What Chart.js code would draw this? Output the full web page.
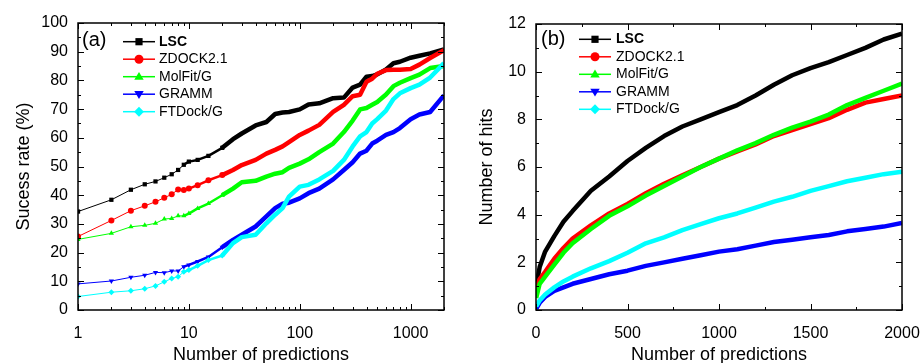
<!DOCTYPE html>
<html>
<head>
<meta charset="utf-8">
<script src="https://cdn.jsdelivr.net/npm/chart.js@4.4.0/dist/chart.umd.min.js"></script>
<style>
  html, body { margin: 0; padding: 0; background: #fff; }
  #wrap { width: 921px; height: 363px; position: relative; }
  canvas { position: absolute; top: 0; }
  #chartA { left: 0; }
  #chartB { left: 460px; }
</style>
</head>
<body>
<div id="wrap">
  <canvas id="chartA" width="460" height="363"></canvas>
  <canvas id="chartB" width="461" height="363"></canvas>
</div>
<script>
// series shared by both panels
var names = ['LSC', 'ZDOCK2.1', 'MolFit/G', 'GRAMM', 'FTDock/G'];
var colors = ['#000000', '#ff0000', '#00ff00', '#0000ff', '#00ffff'];
var markers = ['rect', 'circle', 'triangle', 'triangleDown', 'rectRot'];

// (a) success rate (%) against number of predictions (log x)
var ranksA = [1, 2, 3, 4, 5, 6, 7, 8, 9, 10, 12, 15, 20, 25, 30, 40, 50, 60, 70, 80,
    100, 120, 150, 200, 250, 300, 350, 400, 450, 500, 600, 700, 800, 1000, 1200, 1500, 2000];
var lscA = [34.3, 38.4, 41.9, 43.8, 44.8, 46.1, 47.3, 48.8, 50.6, 51.7, 52.3, 53.7, 56.5, 59.5, 61.5, 64.3, 65.5, 68.3, 68.8, 69.0,
    69.9, 71.6, 72.0, 73.8, 74.0, 77.5, 78.5, 81.3, 81.5, 82.1, 83.8, 86.0, 86.5, 87.9, 88.6, 89.4, 90.8];
var zdockA = [25.6, 31.2, 34.6, 36.3, 37.7, 39.1, 40.3, 42.0, 41.8, 42.3, 43.5, 45.2, 47.0, 48.8, 50.5, 52.3, 54.5, 55.8, 57.0, 58.5,
    61.0, 62.5, 64.5, 69.0, 71.5, 74.5, 75.0, 79.5, 80.6, 82.3, 83.6, 83.7, 83.7, 84.0, 85.5, 87.8, 90.5];
var molfitA = [24.6, 26.7, 29.0, 29.5, 30.2, 31.7, 31.9, 32.8, 32.8, 33.6, 35.4, 37.1, 40.0, 42.3, 44.5, 45.0, 46.5, 47.5, 48.0, 49.5,
    51.0, 52.5, 55.0, 58.0, 62.0, 66.0, 69.9, 70.4, 71.5, 72.5, 75.1, 78.0, 79.2, 80.8, 82.0, 84.3, 85.0];
var grammA = [9.1, 10.1, 11.4, 12.1, 13.1, 13.0, 13.6, 13.6, 15.1, 15.7, 16.9, 18.5, 21.9, 24.4, 26.2, 29.1, 32.6, 35.5, 37.0, 37.4,
    38.9, 40.7, 42.3, 45.5, 48.8, 51.5, 54.5, 55.5, 58.0, 59.0, 61.0, 62.0, 63.4, 66.5, 68.1, 69.0, 74.8];
var ftdockA = [4.7, 6.2, 6.7, 7.4, 8.4, 9.8, 11.0, 11.6, 13.3, 13.9, 15.4, 17.4, 19.0, 23.3, 25.4, 26.2, 30.2, 33.2, 35.5, 39.5,
    43.0, 43.6, 45.5, 48.5, 52.3, 57.0, 60.5, 62.0, 65.0, 66.5, 69.5, 73.5, 75.5, 77.3, 78.5, 81.0, 86.0];

// (b) number of hits against number of predictions
var ranksB = [1, 20, 50, 100, 150, 200, 300, 400, 500, 600, 700, 800, 900, 1000,
    1100, 1200, 1300, 1400, 1500, 1600, 1700, 1800, 1900, 2000];
var lscB = [1.0, 1.8, 2.45, 3.1, 3.7, 4.15, 5.0, 5.6, 6.25, 6.8, 7.3, 7.7, 8.0, 8.3,
    8.6, 9.0, 9.45, 9.85, 10.15, 10.4, 10.7, 11.0, 11.35, 11.6];
var zdockB = [0.9, 1.3, 1.6, 2.15, 2.6, 3.0, 3.55, 4.05, 4.45, 4.9, 5.3, 5.65, 6.0, 6.35,
    6.65, 6.95, 7.3, 7.55, 7.8, 8.05, 8.4, 8.7, 8.85, 9.0];
var molfitB = [0.5, 1.1, 1.4, 1.9, 2.4, 2.8, 3.4, 3.95, 4.35, 4.8, 5.2, 5.6, 6.0, 6.35,
    6.7, 7.0, 7.35, 7.65, 7.9, 8.2, 8.6, 8.9, 9.2, 9.5];
var grammB = [0.05, 0.3, 0.55, 0.8, 0.95, 1.1, 1.3, 1.5, 1.65, 1.85, 2.0, 2.15, 2.3, 2.45,
    2.55, 2.7, 2.85, 2.95, 3.05, 3.15, 3.3, 3.4, 3.5, 3.65];
var ftdockB = [0.15, 0.4, 0.65, 0.95, 1.2, 1.4, 1.75, 2.05, 2.4, 2.8, 3.05, 3.35, 3.6, 3.85,
    4.05, 4.3, 4.55, 4.75, 5.0, 5.2, 5.4, 5.55, 5.7, 5.8];

// tick labels
var xTicksA = [1, 10, 100, 1000];
var yTicksA = [0, 10, 20, 30, 40, 50, 60, 70, 80, 90, 100];
var xTicksB = [0, 500, 1000, 1500, 2000];
var yTicksB = [0, 2, 4, 6, 8, 10, 12];

var FONT = "'Liberation Sans', Arial, sans-serif";

function pairs(xs, ys) {
    return xs.map(function(x, i) { return { x: x, y: ys[i] }; });
}

function drawMarker(ctx, style, x, y, r) {
    ctx.beginPath();
    if (style === 'rect') {
        ctx.rect(x - r * 0.8, y - r * 0.8, r * 1.6, r * 1.6);
    } else if (style === 'circle') {
        ctx.arc(x, y, r, 0, Math.PI * 2);
    } else if (style === 'triangle') {
        ctx.moveTo(x, y - r * 1.05);
        ctx.lineTo(x + r * 1.05, y + r * 0.7);
        ctx.lineTo(x - r * 1.05, y + r * 0.7);
    } else if (style === 'triangleDown') {
        ctx.moveTo(x, y + r * 1.05);
        ctx.lineTo(x + r * 1.05, y - r * 0.7);
        ctx.lineTo(x - r * 1.05, y - r * 0.7);
    } else {
        ctx.moveTo(x, y - r * 1.1);
        ctx.lineTo(x + r * 1.1, y);
        ctx.lineTo(x, y + r * 1.1);
        ctx.lineTo(x - r * 1.1, y);
    }
    ctx.closePath();
    ctx.fill();
}

function minorValues(scale, majors) {
    var out = [];
    if (scale.type === 'logarithmic') {
        majors.forEach(function(m) {
            for (var k = 2; k <= 9; k++) {
                if (m * k <= scale.max) out.push(m * k);
            }
        });
    } else {
        for (var i = 0; i < majors.length - 1; i++) out.push((majors[i] + majors[i + 1]) / 2);
    }
    return out;
}

// box, inward ticks on all four sides, panel letter and legend
var framePlugin = {
    id: 'frame',
    afterDraw: function(chart, args, opts) {
        var ctx = chart.ctx, a = chart.chartArea;
        var xs = chart.scales.x, ys = chart.scales.y;
        ctx.save();
        ctx.strokeStyle = '#000';
        ctx.lineWidth = 1;
        ctx.beginPath();
        function xt(vals, len) {
            vals.forEach(function(v) {
                var p = Math.round(xs.getPixelForValue(v)) + 0.5;
                ctx.moveTo(p, a.bottom); ctx.lineTo(p, a.bottom - len);
                ctx.moveTo(p, a.top); ctx.lineTo(p, a.top + len);
            });
        }
        function yt(vals, len) {
            vals.forEach(function(v) {
                var p = Math.round(ys.getPixelForValue(v)) + 0.5;
                ctx.moveTo(a.left, p); ctx.lineTo(a.left + len, p);
                ctx.moveTo(a.right, p); ctx.lineTo(a.right - len, p);
            });
        }
        xt(opts.xMajor, 6);
        xt(minorValues(xs, opts.xMajor), 3);
        yt(opts.yMajor, 6);
        yt(minorValues(ys, opts.yMajor), 3);
        ctx.stroke();

        ctx.lineWidth = 1.5;
        ctx.strokeRect(a.left, a.top, a.right - a.left, a.bottom - a.top);

        ctx.fillStyle = '#000';
        ctx.textBaseline = 'middle';
        ctx.textAlign = 'left';
        ctx.font = '20px ' + FONT;
        ctx.fillText(opts.label, opts.labelX, opts.labelY);

        var L = opts.legend;
        chart.data.datasets.forEach(function(ds, i) {
            var y = L.y + i * L.step;
            ctx.strokeStyle = ds.borderColor;
            ctx.lineWidth = 1.5;
            ctx.beginPath();
            ctx.moveTo(L.x0, y); ctx.lineTo(L.x1, y);
            ctx.stroke();
            ctx.fillStyle = ds.borderColor;
            drawMarker(ctx, markers[i], (L.x0 + L.x1) / 2, y, 4.5);
            ctx.fillStyle = '#000';
            ctx.font = (i === 0 ? 'bold ' : '') + '14px ' + FONT;
            ctx.fillText(ds.label, L.tx, y);
        });
        ctx.restore();
    }
};

function makeDatasets(xs, series, thin) {
    return series.map(function(ys, i) {
        return {
            label: names[i],
            data: pairs(xs, ys),
            borderColor: colors[i],
            backgroundColor: colors[i],
            pointBackgroundColor: colors[i],
            pointBorderWidth: 0,
            pointStyle: markers[i] === 'triangleDown' ? 'triangle' : markers[i],
            pointRotation: markers[i] === 'triangleDown' ? 180 : 0,
            pointRadius: thin ? function(c) { return c.raw && c.raw.x <= 20 ? 3 : 0; } : 0,
            borderWidth: thin ? 1 : 4.5,
            borderJoinStyle: 'round',
            tension: 0,
            order: 5 - i,
            segment: thin ? {
                borderWidth: function(c) {
                    var x = c.p0.parsed.x;
                    return x < 9 ? 1 : (x < 20 ? 2.5 : 4.5);
                }
            } : undefined
        };
    });
}

function axisOpts(kind, ticks, extra) {
    var o = {
        type: kind,
        grid: { display: false, drawTicks: false },
        border: { display: false },
        ticks: {
            color: '#000',
            font: { family: FONT, size: 16 },
            autoSkip: false,
            maxRotation: 0,
            padding: extra.padding,
            callback: function(v) { return String(v); }
        },
        afterBuildTicks: function(s) {
            s.ticks = ticks.map(function(v) { return { value: v }; });
        },
        title: {
            display: true,
            text: extra.title,
            color: '#000',
            font: { family: FONT, size: 18 },
            padding: extra.titlePad
        },
        min: extra.min,
        max: extra.max,
        afterFit: function(s) {
            // layout padding alone decides the plot box
            if (s.isHorizontal()) s.height = extra.size; else s.width = extra.size;
            s.paddingLeft = 0; s.paddingRight = 0;
            s.paddingTop = 0; s.paddingBottom = 0;
        }
    };
    return o;
}

Chart.defaults.font.family = FONT;

new Chart(document.getElementById('chartA'), {
    type: 'line',
    data: { datasets: makeDatasets(ranksA, [lscA, zdockA, molfitA, grammA, ftdockA], true) },
    options: {
        responsive: false,
        animation: false,
        devicePixelRatio: 1,
        layout: { padding: { top: 23, right: 16, left: 0, bottom: 0 } },
        plugins: {
            legend: { display: false },
            tooltip: { enabled: false },
            frame: {
                xMajor: xTicksA, yMajor: yTicksA,
                label: '(a)', labelX: 82, labelY: 40,
                legend: { x0: 123, x1: 155, tx: 159, y: 41.7, step: 17.5 }
            }
        },
        scales: {
            x: axisOpts('logarithmic', xTicksA, { min: 1, max: 2000, title: 'Number of predictions', padding: 14, titlePad: { top: 0, bottom: -3 }, size: 53 }),
            y: axisOpts('linear', yTicksA, { min: 0, max: 100, title: 'Sucess rate (%)', padding: 10, titlePad: { top: 13, bottom: 0 }, size: 78 })
        }
    },
    plugins: [framePlugin]
});

new Chart(document.getElementById('chartB'), {
    type: 'line',
    data: { datasets: makeDatasets(ranksB, [lscB, zdockB, molfitB, grammB, ftdockB], false) },
    options: {
        responsive: false,
        animation: false,
        devicePixelRatio: 1,
        layout: { padding: { top: 24, right: 19, left: 0, bottom: 0 } },
        plugins: {
            legend: { display: false },
            tooltip: { enabled: false },
            frame: {
                xMajor: xTicksB, yMajor: yTicksB,
                label: '(b)', labelX: 81, labelY: 39,
                legend: { x0: 119, x1: 151, tx: 156, y: 39.3, step: 17.5 }
            }
        },
        scales: {
            x: axisOpts('linear', xTicksB, { min: 0, max: 2000, title: 'Number of predictions', padding: 14, titlePad: { top: 0, bottom: -3 }, size: 53 }),
            y: axisOpts('linear', yTicksB, { min: 0, max: 12, title: 'Number of hits', padding: 10, titlePad: { top: 16, bottom: 0 }, size: 76 })
        }
    },
    plugins: [framePlugin]
});
</script>
</body>
</html>
